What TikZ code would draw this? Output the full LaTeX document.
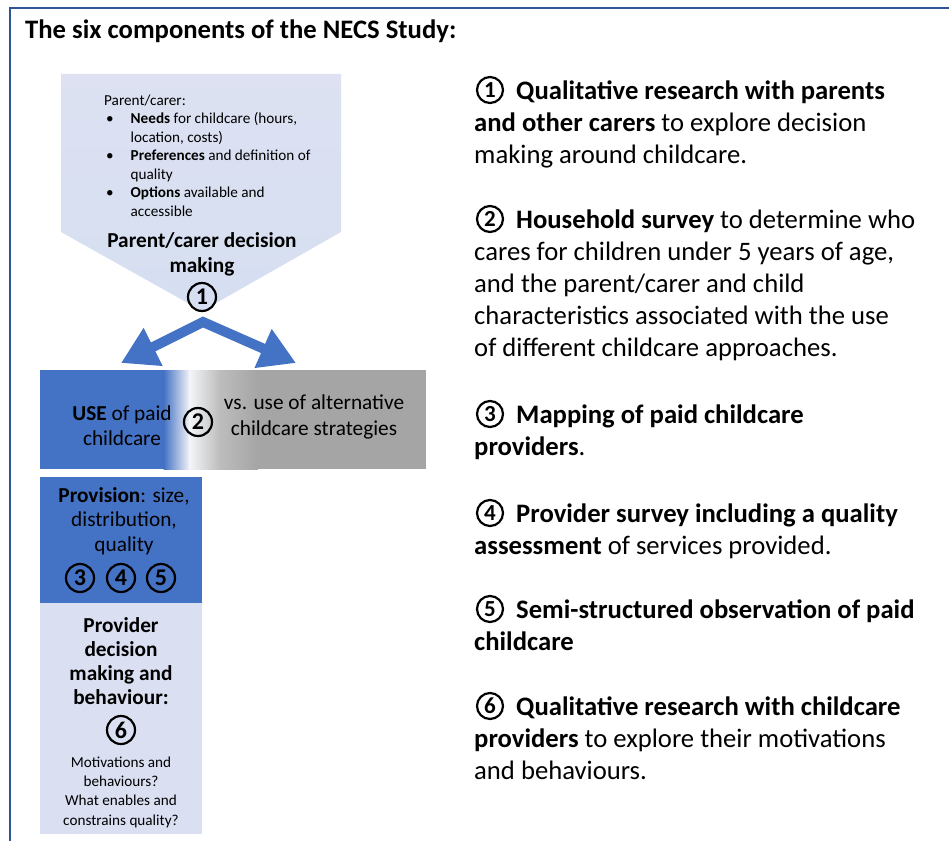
\documentclass[tikz,border=0pt]{standalone}
\usepackage{fontspec}
\setmainfont{Carlito}
\usetikzlibrary{arrows.meta}
\definecolor{nblue}{HTML}{4472C4}
\definecolor{nlight}{HTML}{DAE0F2}
\definecolor{nlighttop}{HTML}{DDE1F2}
\definecolor{nlightbot}{HTML}{D5DFF1}
\definecolor{ngrey}{HTML}{A5A5A5}
\definecolor{ngreymid}{HTML}{BDBDBD}
\definecolor{nwhite}{HTML}{F4F5F8}
\definecolor{nframe}{HTML}{2F5597}
\begin{document}
\begin{tikzpicture}[x=1pt,y=-1pt,
  numc/.style={circle,draw=black,line width=2.2pt,minimum size=28pt,inner sep=0pt,font=\fontsize{24}{24}\selectfont\bfseries},
  numr/.style={circle,draw=black,line width=2.2pt,minimum size=26pt,inner sep=0pt,font=\fontsize{23}{23}\selectfont\bfseries},
  bigtext/.style={font=\fontsize{26.67}{32}\selectfont, anchor=base west, align=left, inner sep=0pt},
  midtext/.style={font=\fontsize{21.3}{26}\selectfont, anchor=base, align=center, inner sep=0pt},
  smalltext/.style={font=\fontsize{15.2}{18.5}\selectfont, inner sep=0pt},
  fat/.style={line width=10pt, draw=nblue, {Triangle[length=36pt,width=40pt]}-{Triangle[length=36pt,width=40pt]}, line join=miter}
]
\useasboundingbox (0,0) rectangle (949,840);
\fill[white] (0,0) rectangle (949,840);
% frame
\draw[nframe,line width=2pt] (10,842) -- (10,8) -- (951,8);
% title
\node[font=\fontsize{26.67}{32}\selectfont\bfseries, anchor=base west, inner sep=0pt] (title) at (25,39) {The six components of the NECS Study:};

% pentagon (multi-line nodes: base anchor = baseline of the last line)
\shade[top color=nlighttop, bottom color=nlightbot] (61,74) -- (341,74) -- (341,232) -- (202,311) -- (61,232) -- cycle;
\node[smalltext, anchor=base west, align=left] (pc) at (104,216) {Parent/carer:\\
\makebox[26.5pt][l]{\hspace*{2pt}•}\textbf{Needs} for childcare (hours,\\
\hspace*{26.5pt}location, costs)\\
\makebox[26.5pt][l]{\hspace*{2pt}•}\textbf{Preferences} and definition of\\
\hspace*{26.5pt}quality\\
\makebox[26.5pt][l]{\hspace*{2pt}•}\textbf{Options} available and\\
\hspace*{26.5pt}accessible};
\node[midtext, font=\fontsize{21.3}{25.5}\selectfont\bfseries] (pdm) at (202,272.5) {Parent/carer decision\\making};
\node[numc] (n1) at (202,297) {1};

% arrows
\coordinate (j) at (203,322);
\coordinate (al) at (121,363);
\coordinate (ar) at (296,363);
\draw[fat] (al) -- (j) -- (ar);

% band
\fill[nblue] (40,370) rectangle (164,469);
\shade[left color=nblue, right color=nwhite] (163.5,370) rectangle (190,469);
\shade[left color=nwhite, right color=ngreymid] (189.5,370) rectangle (220,469);
\shade[left color=ngreymid, right color=ngrey] (219.5,370) rectangle (258,469);
\fill[ngrey] (257.5,370) rectangle (426,469);
\node[midtext, font=\fontsize{21.3}{25}\selectfont] (use) at (122,445) {\textbf{USE} of paid\\childcare};
\node[numc] (n2) at (198,422) {2};
\node[midtext] (alt) at (314,435) {vs. use of alternative\\childcare strategies};

% provision box
\fill[nblue] (40,477) rectangle (202,603.5);
\node[midtext, font=\fontsize{21.3}{24.5}\selectfont] (prov) at (124,551) {\textbf{Provision}: size,\\distribution,\\quality};
\node[numc] (n3) at (80,578) {3};
\node[numc] (n4) at (121,578) {4};
\node[numc] (n5) at (161,578) {5};

% provider box
\fill[nlight] (40,603) rectangle (202,834);
\node[midtext, font=\fontsize{21.3}{24}\selectfont\bfseries] (pdb) at (121,704) {Provider\\decision\\making and\\behaviour:};
\node[numc] (n6) at (121,730) {6};
\node[smalltext, anchor=base, align=center, font=\fontsize{15.2}{19.2}\selectfont] (mot) at (121,825) {Motivations and\\behaviours?\\What enables and\\constrains quality?};

% right-hand text
\node[bigtext] (p1) at (474,163) {\hspace*{42pt}\textbf{Qualitative research with parents}\\\textbf{and other carers} to explore decision\\making around childcare.};
\node[numr] (r1) at (490,90) {1};
\node[bigtext] (p2) at (474,356) {\hspace*{42pt}\textbf{Household survey} to determine who\\cares for children under 5 years of age,\\and the parent/carer and child\\characteristics associated with the use\\of different childcare approaches.};
\node[numr] (r2) at (490,219) {2};
\node[bigtext] (p3) at (474,455) {\hspace*{42pt}\textbf{Mapping of paid childcare}\\\textbf{providers}.};
\node[numr] (r3) at (490,414) {3};
\node[bigtext] (p4) at (474,554) {\hspace*{42pt}\textbf{Provider survey including a quality}\\\textbf{assessment} of services provided.};
\node[numr] (r4) at (490,513) {4};
\node[bigtext] (p5) at (474,650) {\hspace*{42pt}\textbf{Semi-structured observation of paid}\\\textbf{childcare}};
\node[numr] (r5) at (490,609) {5};
\node[bigtext] (p6) at (474,779) {\hspace*{42pt}\textbf{Qualitative research with childcare}\\\textbf{providers} to explore their motivations\\and behaviours.};
\node[numr] (r6) at (490,706) {6};
\end{tikzpicture}
\end{document}
